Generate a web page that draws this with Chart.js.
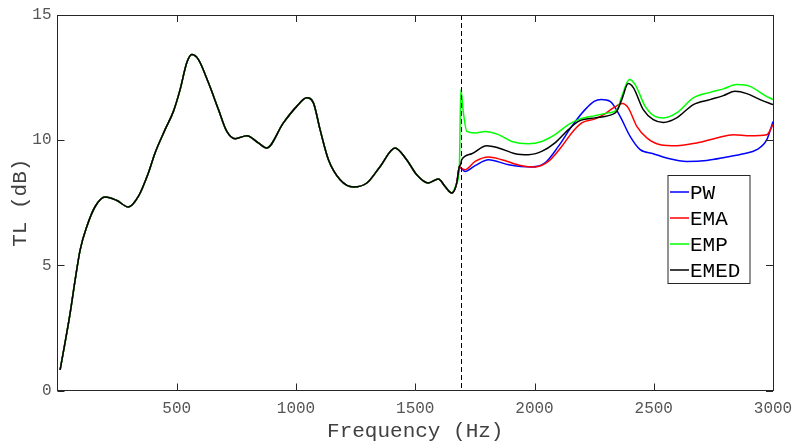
<!DOCTYPE html>
<html>
<head>
<meta charset="utf-8">
<script src="https://cdn.jsdelivr.net/npm/chart.js@4.4.1/dist/chart.umd.min.js"></script>
<style>
  body { margin: 0; background: #fff; }
</style>
</head>
<body>
<canvas id="tlchart" width="796" height="444"></canvas>
<script>
// common part of the curve (all methods are the same below the split)
const baseFreq = [11, 53, 74, 95, 123, 158, 200, 249, 297, 339, 381, 409, 451, 486, 514, 542, 563, 591, 633, 675, 710, 745, 794, 842, 877, 947, 1003, 1045, 1073, 1101, 1136, 1185, 1241, 1297, 1353, 1415, 1464, 1506, 1555, 1597, 1625, 1653, 1674, 1685]
const baseTL = [0.82, 3.09, 4.42, 5.62, 6.55, 7.35, 7.73, 7.59, 7.33, 7.75, 8.69, 9.49, 10.42, 11.15, 12.02, 13.09, 13.42, 13.22, 12.29, 11.22, 10.35, 10.06, 10.18, 9.89, 9.69, 10.69, 11.35, 11.69, 11.49, 10.42, 9.22, 8.42, 8.13, 8.29, 8.95, 9.69, 9.22, 8.62, 8.29, 8.45, 8.15, 7.89, 8.29, 8.95]

// split frequency (dashed line)
const splitFreq = 1690

// tails after the split, one per method
const pwFreq = [1690, 1709, 1751, 1807, 1891, 1988, 2044, 2100, 2156, 2212, 2250, 2280, 2317, 2359, 2401, 2443, 2498, 2554, 2638, 2722, 2806, 2876, 2932, 2974, 3000]
const pwTL = [8.9, 8.75, 8.98, 9.22, 9.02, 8.93, 9.09, 9.75, 10.55, 11.22, 11.55, 11.62, 11.55, 10.95, 10.15, 9.62, 9.46, 9.29, 9.15, 9.19, 9.33, 9.46, 9.62, 10.02, 10.75]

const emaFreq = [1690, 1709, 1751, 1807, 1863, 1946, 2002, 2058, 2114, 2156, 2198, 2254, 2290, 2331, 2368, 2393, 2429, 2471, 2527, 2596, 2680, 2764, 2834, 2904, 2974, 3000]
const emaTL = [8.9, 8.82, 9.15, 9.33, 9.22, 8.98, 8.93, 9.15, 9.75, 10.29, 10.69, 10.85, 11.02, 11.29, 11.46, 11.29, 10.55, 10.09, 9.82, 9.78, 9.89, 10.09, 10.22, 10.18, 10.22, 10.62]

const empFreq = [1691, 1702, 1716, 1751, 1793, 1849, 1905, 1974, 2030, 2086, 2142, 2184, 2254, 2310, 2345, 2366, 2398, 2422, 2464, 2505, 2540, 2596, 2666, 2736, 2792, 2848, 2904, 2960, 3000]
const empTL = [12.02, 11.09, 10.35, 10.29, 10.35, 10.22, 9.95, 9.86, 9.95, 10.22, 10.62, 10.82, 10.98, 11.09, 11.2, 11.75, 12.42, 12.22, 11.35, 10.95, 10.89, 11.09, 11.69, 11.91, 12.05, 12.22, 12.15, 11.82, 11.62]

const emedFreq = [1690, 1695, 1737, 1800, 1849, 1919, 1974, 2030, 2086, 2142, 2184, 2254, 2310, 2345, 2366, 2393, 2415, 2456, 2498, 2540, 2596, 2666, 2736, 2792, 2841, 2890, 2946, 3000]
const emedTL = [9.02, 9.22, 9.46, 9.78, 9.69, 9.46, 9.42, 9.55, 9.89, 10.42, 10.75, 10.89, 10.98, 11.15, 11.62, 12.26, 12.09, 11.22, 10.82, 10.71, 10.89, 11.42, 11.62, 11.78, 11.95, 11.86, 11.62, 11.42]

const methodNames = ["PW", "EMA", "EMP", "EMED"]
const methodColors = ["#0000ff", "#ff0000", "#00ff00", "#000000"]

const monoFont = "'Liberation Mono', 'Courier New', monospace"

//joins the common part and a tail into x/y points
function makePoints(tailF, tailV){
    let pts = []
    for(let i = 0; i < baseFreq.length; i++){
        pts.push({x: baseFreq[i], y: baseTL[i]})
    }
    for(let i = 0; i < tailF.length; i++){
        pts.push({x: tailF[i], y: tailV[i]})
    }
    return pts
}

const tails = [[pwFreq, pwTL], [emaFreq, emaTL], [empFreq, empTL], [emedFreq, emedTL]]
let datasets = []
tails.forEach((t, i) => {
    datasets.push({
        label: methodNames[i],
        data: makePoints(t[0], t[1]),
        borderColor: methodColors[i],
        backgroundColor: methodColors[i],
        borderWidth: 1.5,
        pointRadius: 0,
        fill: false,
        cubicInterpolationMode: 'monotone',
        order: tails.length - i   // EMED ends up on top like in matlab
    })
})

//draws the box, inward ticks, the dashed line and the legend
const extras = {
    id: 'extras',
    afterDatasetsDraw(chart){
        const ctx = chart.ctx
        const a = chart.chartArea
        const xs = chart.scales.x
        const ys = chart.scales.y
        ctx.save()
        // dashed split line
        ctx.strokeStyle = '#000'
        ctx.lineWidth = 1
        ctx.setLineDash([5, 3])
        let sx = Math.round(xs.getPixelForValue(splitFreq)) + 0.5
        ctx.beginPath()
        ctx.moveTo(sx, a.top)
        ctx.lineTo(sx, a.bottom)
        ctx.stroke()
        ctx.setLineDash([])
        // box and inward ticks
        ctx.strokeStyle = '#262626'
        ctx.beginPath()
        ctx.moveTo(a.left, a.top + 0.5)
        ctx.lineTo(a.right + 0.5, a.top + 0.5)
        ctx.lineTo(a.right + 0.5, a.bottom)
        xs.ticks.forEach(t => {
            let px = Math.round(xs.getPixelForValue(t.value)) + 0.5
            ctx.moveTo(px, a.bottom)
            ctx.lineTo(px, a.bottom - 7)
            ctx.moveTo(px, a.top)
            ctx.lineTo(px, a.top + 7)
        })
        ys.ticks.forEach(t => {
            let py = Math.round(ys.getPixelForValue(t.value)) + 0.5
            ctx.moveTo(a.left, py)
            ctx.lineTo(a.left + 7, py)
            ctx.moveTo(a.right, py)
            ctx.lineTo(a.right - 7, py)
        })
        ctx.stroke()
        // legend
        const bx = a.left + 610.5, by = a.top + 160.5, bw = 82, bh = 108
        ctx.fillStyle = '#fff'
        ctx.fillRect(bx, by, bw, bh)
        ctx.strokeStyle = '#262626'
        ctx.strokeRect(bx, by, bw, bh)
        ctx.font = '21px ' + monoFont
        ctx.textBaseline = 'middle'
        chart.data.datasets.forEach((d, i) => {
            let ry = by + 16.5 + i * 26
            ctx.strokeStyle = d.borderColor
            ctx.lineWidth = 1.5
            ctx.beginPath()
            ctx.moveTo(bx + 2, ry)
            ctx.lineTo(bx + 21, ry)
            ctx.stroke()
            ctx.fillStyle = '#000'
            ctx.fillText(d.label, bx + 22, ry + 1)
        })
        ctx.restore()
    }
}

let tlchart = new Chart(document.getElementById("tlchart"), {
    type: 'line',
    data: { datasets: datasets },
    options: {
        responsive: false,
        animation: false,
        layout: { padding: { left: 0, right: 23, top: 15, bottom: 0 } },
        plugins: { legend: { display: false }, tooltip: { enabled: false } },
        scales: {
            x: {
                type: 'linear',
                min: 0,
                max: 3000,
                grid: { display: false, drawTicks: false },
                border: { color: '#262626', width: 1 },
                ticks: {
                    stepSize: 500,
                    color: '#555',
                    font: { family: monoFont, size: 16 },
                    padding: 9,
                    maxRotation: 0,
                    callback: v => String(v)
                },
                title: {
                    display: true,
                    text: 'Frequency (Hz)',
                    color: '#404040',
                    font: { family: monoFont, size: 21 },
                    padding: { top: 2, bottom: 0 }
                },
                afterBuildTicks(s){ s.ticks = s.ticks.filter(t => t.value !== 0) },
                afterFit(s){ s.height = 53.5; s.paddingRight = 0; s.paddingLeft = 0 }
            },
            y: {
                min: 0,
                max: 15,
                grid: { display: false, drawTicks: false },
                border: { color: '#262626', width: 1 },
                ticks: {
                    stepSize: 5,
                    color: '#555',
                    font: { family: monoFont, size: 16 },
                    padding: 6,
                    callback: v => String(v)
                },
                title: {
                    display: true,
                    text: 'TL (dB)',
                    color: '#404040',
                    font: { family: monoFont, size: 21 },
                    padding: { top: 8, bottom: 0 }
                },
                afterFit(s){ s.width = 57.5; s.paddingTop = 0; s.paddingBottom = 0 }
            }
        }
    },
    plugins: [extras]
})
</script>
</body>
</html>
